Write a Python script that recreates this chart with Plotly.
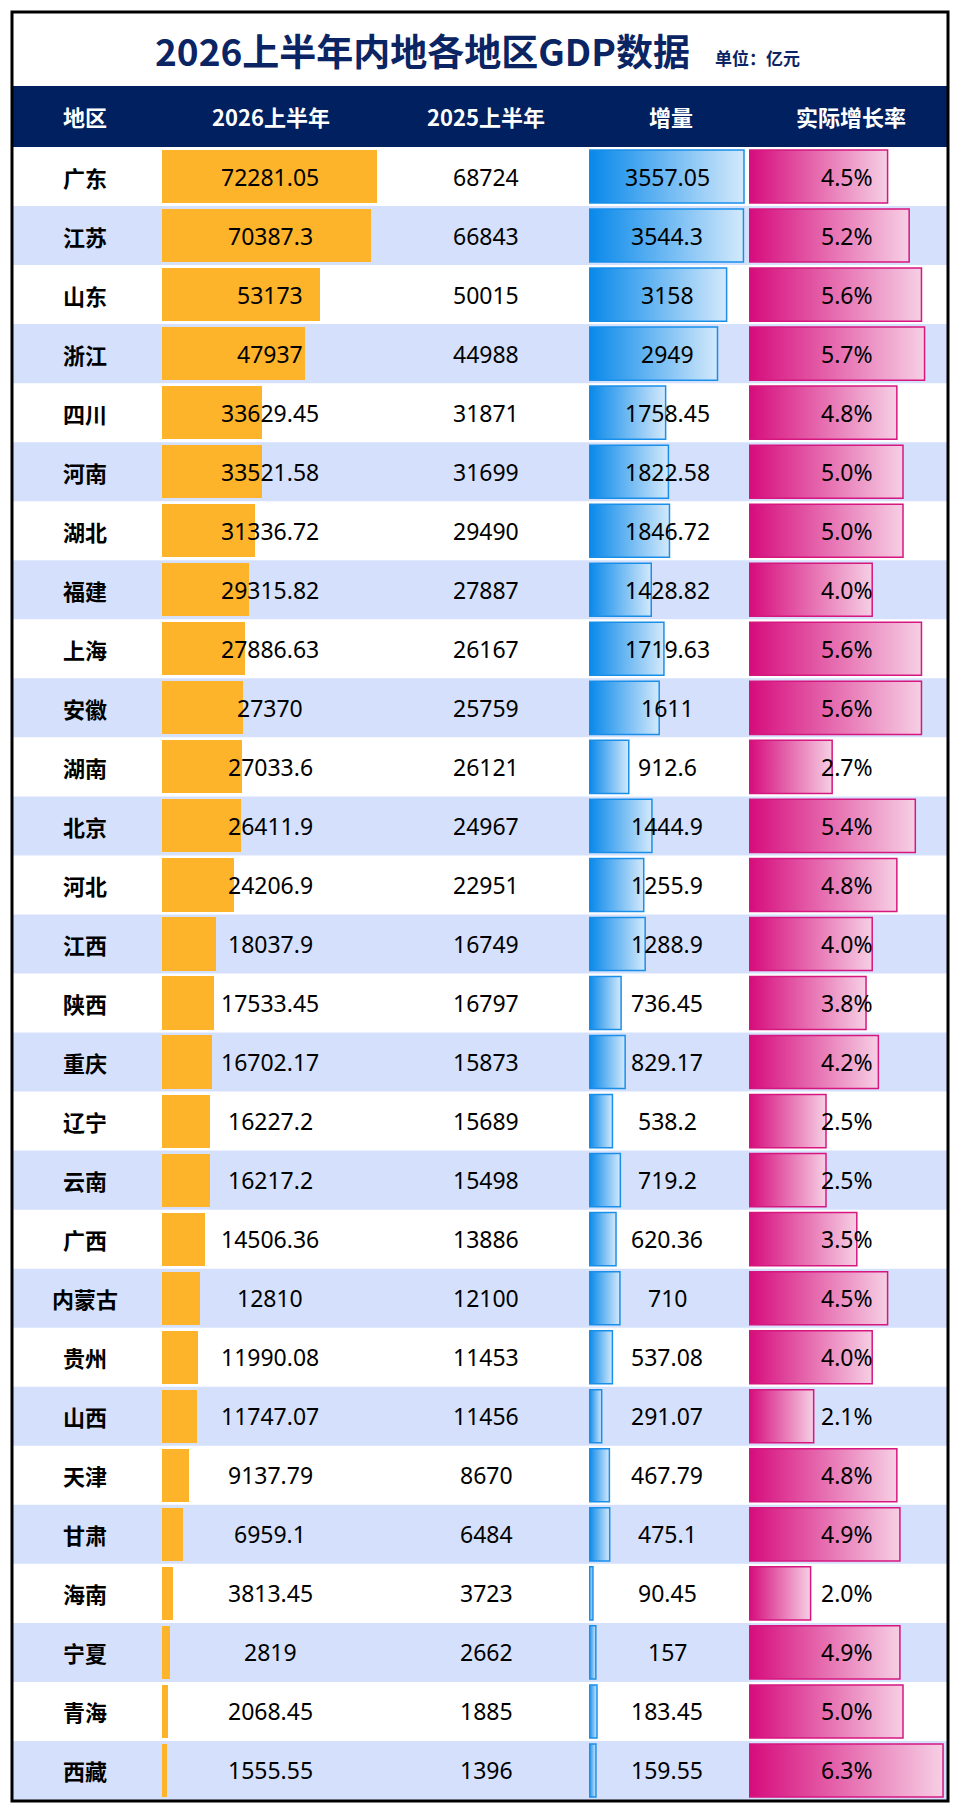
import plotly.graph_objects as go

# 数据
regions = ['广东', '江苏', '山东', '浙江', '四川', '河南', '湖北', '福建', '上海', '安徽',
           '湖南', '北京', '河北', '江西', '陕西', '重庆', '辽宁', '云南', '广西', '内蒙古',
           '贵州', '山西', '天津', '甘肃', '海南', '宁夏', '青海', '西藏']
gdp_2026 = [72281.05, 70387.3, 53173, 47937, 33629.45, 33521.58, 31336.72, 29315.82,
            27886.63, 27370, 27033.6, 26411.9, 24206.9, 18037.9, 17533.45, 16702.17,
            16227.2, 16217.2, 14506.36, 12810, 11990.08, 11747.07, 9137.79, 6959.1,
            3813.45, 2819, 2068.45, 1555.55]
gdp_2025 = [68724, 66843, 50015, 44988, 31871, 31699, 29490, 27887, 26167, 25759,
            26121, 24967, 22951, 16749, 16797, 15873, 15689, 15498, 13886, 12100,
            11453, 11456, 8670, 6484, 3723, 2662, 1885, 1396]
increase = [3557.05, 3544.3, 3158, 2949, 1758.45, 1822.58, 1846.72, 1428.82, 1719.63, 1611,
            912.6, 1444.9, 1255.9, 1288.9, 736.45, 829.17, 538.2, 719.2, 620.36, 710,
            537.08, 291.07, 467.79, 475.1, 90.45, 157, 183.45, 159.55]
growth = [4.5, 5.2, 5.6, 5.7, 4.8, 5.0, 5.0, 4.0, 5.6, 5.6,
          2.7, 5.4, 4.8, 4.0, 3.8, 4.2, 2.5, 2.5, 3.5, 4.5,
          4.0, 2.1, 4.8, 4.9, 2.0, 4.9, 5.0, 6.3]
headers = ['地区', '2026上半年', '2025上半年', '增量', '实际增长率']
title = '2026上半年内地各地区GDP数据'
unit = '单位：亿元'

W, H = 960, 1814
NAVY = '#002060'
ORANGE = '#FDB42A'
ROW_BLUE = '#D5E1FC'
CJK = 'Noto Sans CJK SC'
NUM = 'Noto Sans, Noto Sans CJK SC'


def px(x):
    return x / W


def py(y):
    return 1 - y / H


n = len(regions)
idx = list(range(n))
bar_half = 0.45

fig = go.Figure()

# 2026上半年 橙色条
fig.add_trace(go.Bar(x=gdp_2026, y=idx, orientation='h', width=2 * bar_half,
                     marker=dict(color=ORANGE, line=dict(width=0)),
                     xaxis='x', yaxis='y', hoverinfo='skip'))


# 渐变条（增量 / 实际增长率）
def gradient_bars(values, axis, c0, c1, line_c):
    for i, v in enumerate(values):
        fig.add_trace(go.Scatter(
            x=[0, v, v, 0, 0],
            y=[i - bar_half, i - bar_half, i + bar_half, i + bar_half, i - bar_half],
            xaxis=axis, yaxis='y', mode='lines', fill='toself',
            line=dict(color=line_c, width=1.5),
            fillgradient=dict(type='horizontal', colorscale=[[0, c0], [1, c1]]),
            hoverinfo='skip', showlegend=False))


gradient_bars(increase, 'x2', '#0788EA', '#D3E9FB', '#1A8FEA')
gradient_bars(growth, 'x3', '#D60B7C', '#F6CFE4', '#D6177F')

# 列中心
col_x = [85, 270, 486, 667, 847]
head_x = [85, 271, 486, 671, 851]

annotations = []
for i in idx:
    cells = [regions[i], f'{gdp_2026[i]:.10g}', f'{gdp_2025[i]:.10g}',
             f'{increase[i]:.10g}', f'{growth[i]:.1f}%']
    for j, txt in enumerate(cells):
        if j == 0:
            font = dict(family=CJK, size=22, color='black', weight='bold')
        else:
            font = dict(family=NUM, size=23, color='black')
        annotations.append(dict(x=px(col_x[j]), y=i, xref='paper', yref='y', text=txt,
                                showarrow=False, xanchor='center', yanchor='middle', font=font))

for j, h in enumerate(headers):
    annotations.append(dict(x=px(head_x[j]), y=py(116), xref='paper', yref='paper', text=h,
                            showarrow=False, xanchor='center', yanchor='middle',
                            font=dict(family=CJK, size=22, color='white', weight='bold')))

annotations.append(dict(x=px(422), y=py(50), xref='paper', yref='paper', text=title,
                        showarrow=False, xanchor='center', yanchor='middle',
                        font=dict(family=CJK, size=37, color='#0B2463', weight='bold')))
annotations.append(dict(x=px(713), y=py(57), xref='paper', yref='paper', text=unit,
                        showarrow=False, xanchor='left', yanchor='middle',
                        font=dict(family=CJK, size=17, color='#0B2463', weight='bold')))

shapes = []
# 隔行底色
for i in idx:
    if i % 2 == 1:
        shapes.append(dict(type='rect', xref='paper', yref='y', x0=px(12), x1=px(948),
                           y0=i - 0.5, y1=i + 0.5, fillcolor=ROW_BLUE,
                           line=dict(width=0), layer='below'))
# 表头
shapes.append(dict(type='rect', xref='paper', yref='paper', x0=px(12), x1=px(948),
                   y0=py(147), y1=py(86), fillcolor=NAVY, line=dict(width=0), layer='below'))
# 外框
shapes.append(dict(type='rect', xref='paper', yref='paper', x0=px(12), x1=px(948),
                   y0=py(1801), y1=py(12), line=dict(color='black', width=3), layer='above'))

ax = dict(visible=False, fixedrange=True, showgrid=False, zeroline=False)
fig.update_layout(
    width=W, height=H,
    margin=dict(l=0, r=0, t=0, b=0),
    paper_bgcolor='white', plot_bgcolor='rgba(0,0,0,0)',
    showlegend=False, bargap=0,
    xaxis=dict(ax, domain=[px(162), px(430)], range=[0, 72281.05 * 268 / 215], anchor='y'),
    xaxis2=dict(ax, domain=[px(589), px(745)], range=[0, 3557.05 * 156 / 155], anchor='y'),
    xaxis3=dict(ax, domain=[px(749), px(947)], range=[0, 198 / 30.8], anchor='y'),
    yaxis=dict(ax, domain=[py(1800), py(147)], range=[n - 0.5, -0.5]),
    annotations=annotations,
    shapes=shapes,
)

fig.write_html('out.html', config={'displayModeBar': False},
               post_script="document.body.style.margin='0';document.body.style.overflow='hidden';")
